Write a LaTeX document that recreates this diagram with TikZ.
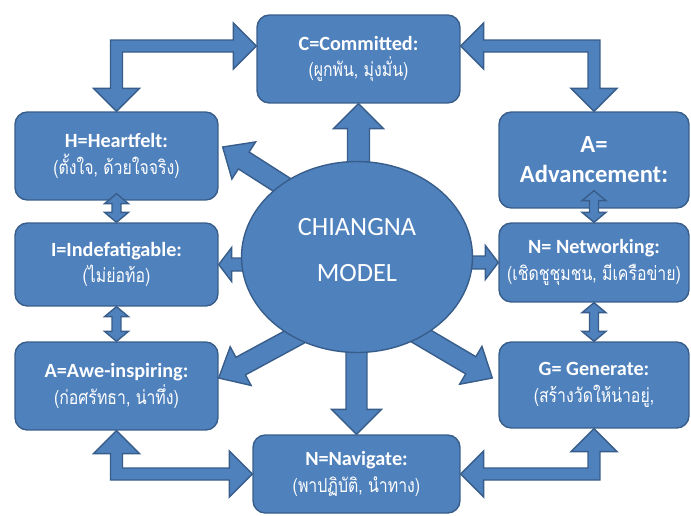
\documentclass[tikz,border=0pt]{standalone}
\usepackage{fontspec}
\setmainfont{Carlito}
\newfontfamily\thaifont[Script=Thai, FakeStretch=0.82]{Loma}
\usepackage{tikz}
\usetikzlibrary{calc,shapes.geometric}
\definecolor{boxblue}{RGB}{79,129,189}
\definecolor{edgeblue}{RGB}{56,93,138}

\newcommand{\thaitext}[1]{{\thaifont\mdseries\fontsize{11}{15}\selectfont #1}}

% 太い矢印 (始点, 先端, 軸の半幅, 頭の半幅, 頭の長さ)
\newcommand{\fatarrow}[5]{%
  \coordinate (fa-s) at (#1);
  \coordinate (fa-t) at (#2);
  \coordinate (fa-b) at ($(fa-t)!#5!(fa-s)$);
  \filldraw[blockarrow] ($(fa-s)!#3!90:(fa-t)$) -- ($(fa-b)!#3!90:(fa-t)$)
    -- ($(fa-b)!#4!90:(fa-t)$) -- (fa-t) -- ($(fa-b)!#4!-90:(fa-t)$)
    -- ($(fa-b)!#3!-90:(fa-t)$) -- ($(fa-s)!#3!-90:(fa-t)$) -- cycle;
}
% 両方向の太い矢印
\newcommand{\dfatarrow}[5]{%
  \coordinate (fa-s) at (#1);
  \coordinate (fa-t) at (#2);
  \coordinate (fa-p) at ($(fa-s)!#5!(fa-t)$);
  \coordinate (fa-q) at ($(fa-t)!#5!(fa-s)$);
  \filldraw[blockarrow] (fa-s) -- ($(fa-p)!#4!90:(fa-t)$) -- ($(fa-p)!#3!90:(fa-t)$)
    -- ($(fa-q)!#3!90:(fa-t)$) -- ($(fa-q)!#4!90:(fa-t)$) -- (fa-t)
    -- ($(fa-q)!#4!-90:(fa-t)$) -- ($(fa-q)!#3!-90:(fa-t)$)
    -- ($(fa-p)!#3!-90:(fa-t)$) -- ($(fa-p)!#4!-90:(fa-t)$) -- cycle;
}
% L字の両方向矢印 (先端1, 角, 先端2)
\newcommand{\elbowarrow}[3]{%
  \coordinate (ea-a) at (#1);
  \coordinate (ea-c) at (#2);
  \coordinate (ea-b) at (#3);
  \coordinate (ea-p) at ($(ea-a)!0.46cm!(ea-c)$);
  \coordinate (ea-q) at ($(ea-b)!0.46cm!(ea-c)$);
  \coordinate (ea-u) at ($(ea-c)!0.12cm!(ea-a) - (ea-c)$);
  \coordinate (ea-v) at ($(ea-c)!0.12cm!(ea-b) - (ea-c)$);
  \coordinate (ea-uu) at ($(ea-c)!0.46cm!(ea-a) - (ea-c)$);
  \coordinate (ea-vv) at ($(ea-c)!0.46cm!(ea-b) - (ea-c)$);
  \filldraw[blockarrow] ($(ea-c)+(ea-u)+(ea-v)$) -- ($(ea-p)+(ea-v)$)
    -- ($(ea-p)+(ea-vv)$) -- (ea-a) -- ($(ea-p)-(ea-vv)$) -- ($(ea-p)-(ea-v)$)
    -- ($(ea-c)-(ea-u)-(ea-v)$) -- ($(ea-q)-(ea-u)$) -- ($(ea-q)-(ea-uu)$)
    -- (ea-b) -- ($(ea-q)+(ea-uu)$) -- ($(ea-q)+(ea-u)$) -- cycle;
}

\begin{document}
\begin{tikzpicture}[x=0.02cm, y=-0.02cm,
  box/.style={rectangle, rounded corners=7pt, draw=edgeblue, fill=boxblue, line width=0.8pt,
    text=white, align=center, minimum width=4.06cm, minimum height=1.76cm, inner sep=2pt,
    font=\fontsize{11.5}{15}\selectfont\bfseries},
  hub/.style={ellipse, draw=edgeblue, fill=boxblue, line width=0.8pt, text=white, align=center,
    minimum width=4.62cm, minimum height=3.82cm, text depth=8pt, font=\fontsize{15}{18}\selectfont},
  blockarrow/.style={draw=edgeblue, fill=boxblue, line width=0.8pt, line join=miter}]
\useasboundingbox (0,0) rectangle (691,515);

% 各ボックス
\node[box] (commit) at (358.5,59) {C=Committed:\\\thaitext{(ผูกพัน, มุ่งมั่น)}};
\node[box] (heart) at (116.5,156) {H=Heartfelt:\\\thaitext{(ตั้งใจ, ด้วยใจจริง)}};
\node[box, minimum height=1.66cm] (indef) at (116.5,264.5) {I=Indefatigable:\\\thaitext{(ไม่ย่อท้อ)}};
\node[box] (awe) at (116.5,386) {A=Awe-inspiring:\\\thaitext{(ก่อศรัทธา, น่าทึ่ง)}};
\node[box, minimum width=3.8cm, minimum height=1.92cm, font=\fontsize{14}{17}\selectfont\bfseries] (adv) at (594,160) {A=\\Advancement:};
\node[box, minimum width=3.8cm, minimum height=1.58cm] (net) at (594,262.5) {N= Networking:\\\thaitext{(เชิดชูชุมชน, มีเครือข่าย)}};
\node[box, minimum width=3.8cm, minimum height=1.72cm] (gen) at (594,385) {G= Generate:\\\thaitext{(สร้างวัดให้น่าอยู่,}};
\node[box, minimum width=4.14cm, minimum height=1.56cm] (nav) at (356.5,474) {N=Navigate:\\\thaitext{(พาปฏิบัติ, นำทาง)}};

% 中心から外への矢印
\coordinate (ctr) at (357,257);
\fatarrow{commit.south |- ctr}{commit.south}{0.22cm}{0.5cm}{0.5cm}
\fatarrow{nav.north |- ctr}{nav.north}{0.21cm}{0.5cm}{0.5cm}
\fatarrow{$(ctr)+(-67,-67)$}{$(heart.east)+(4,-9)$}{0.2cm}{0.44cm}{0.5cm}
\fatarrow{$(ctr)+(-57,77)$}{$(awe.east)+(0,-8)$}{0.2cm}{0.44cm}{0.5cm}
\fatarrow{$(ctr)+(59,76)$}{$(gen.west)+(-6,-7)$}{0.2cm}{0.44cm}{0.5cm}
\fatarrow{$(indef.east)+(40,0)$}{indef.east}{0.13cm}{0.34cm}{0.26cm}
\fatarrow{$(net.west)+(-40,0)$}{net.west}{0.13cm}{0.34cm}{0.26cm}

% 中心の楕円
\node[hub] (model) at (ctr) {CHIANGNA\\[8pt]MODEL};

% ボックス間の矢印
\dfatarrow{$(heart.south)+(0,-7)$}{indef.north}{0.09cm}{0.24cm}{0.2cm}
\dfatarrow{indef.south}{awe.north}{0.09cm}{0.24cm}{0.2cm}
\dfatarrow{$(adv.south)+(0,-18)$}{net.north}{0.09cm}{0.24cm}{0.2cm}
\dfatarrow{net.south}{gen.north}{0.09cm}{0.24cm}{0.2cm}

\coordinate (cw) at ($(commit.west)+(0,-13)$);
\coordinate (ce) at ($(commit.east)+(0,-13)$);
\elbowarrow{cw}{heart.north |- cw}{heart.north}
\elbowarrow{ce}{adv.north |- ce}{adv.north}
\elbowarrow{awe.south}{awe.south |- nav.west}{nav.west}
\elbowarrow{gen.south}{gen.south |- nav.east}{nav.east}
\end{tikzpicture}
\end{document}
